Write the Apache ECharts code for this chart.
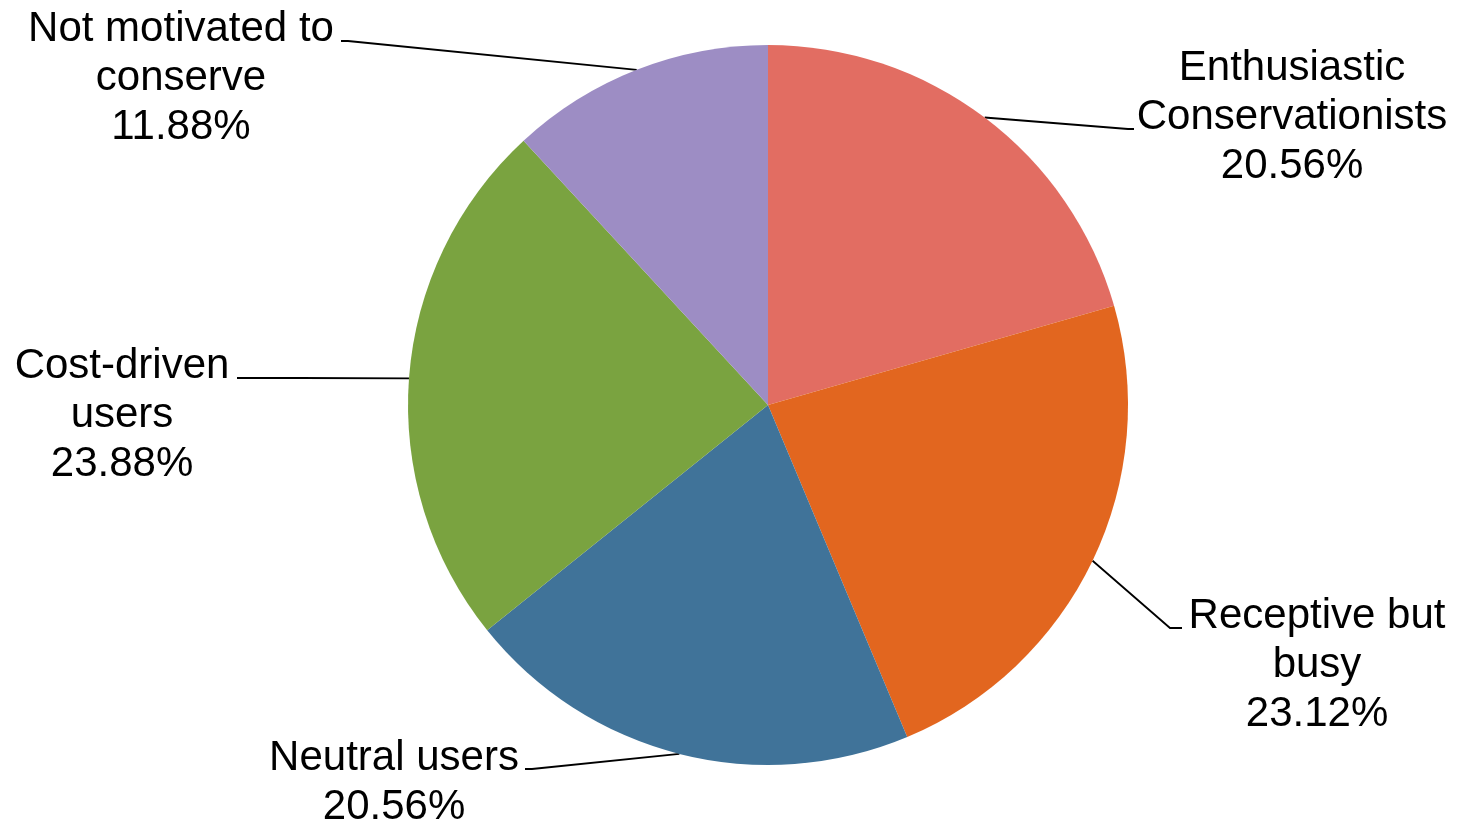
<!DOCTYPE html>
<html>
<head>
<meta charset="utf-8">
<title>Conservation attitude segments</title>
<script src="https://cdn.jsdelivr.net/npm/echarts@6/dist/echarts.min.js"></script>
<style>
  html, body { margin: 0; padding: 0; background: #ffffff; }
  #chart { width: 1458px; height: 825px; }
</style>
</head>
<body>
<div id="chart"></div>
<script>
// Segment names (line breaks as shown in the labels) and their shares in percent
const segmentNames = [
  'Enthusiastic\nConservationists',
  'Receptive but\nbusy',
  'Neutral users',
  'Cost-driven\nusers',
  'Not motivated to\nconserve'
];
const segmentShares = [20.56, 23.12, 20.56, 23.88, 11.88];
const segmentColors = ['#E26D62', '#E2661F', '#407399', '#7AA340', '#9D8DC4'];

// Where each label block sits, plus the bend and end of its leader line
const labelSpots = [
  { x: 1292, y: 117, elbow: [1128, 129], end: [1134, 129] },
  { x: 1317, y: 665, elbow: [1170, 628], end: [1182, 628] },
  { x: 394,  y: 783, elbow: [532, 769],  end: [525, 769] },
  { x: 122,  y: 415, elbow: [300, 378],  end: [237, 378] },
  { x: 181,  y: 78,  elbow: [348, 41],   end: [341, 41] }
];

const chart = echarts.init(document.getElementById('chart'), null, { renderer: 'canvas' });

const pieData = segmentNames.map((name, i) => ({
  name: name,
  value: segmentShares[i],
  itemStyle: { color: segmentColors[i] }
}));

chart.setOption({
  backgroundColor: '#ffffff',
  animation: false,
  series: [{
    type: 'pie',
    center: [768, 405],
    radius: [0, 360],
    startAngle: 90,
    clockwise: true,
    avoidLabelOverlap: false,
    data: pieData,
    itemStyle: { borderWidth: 0 },
    label: {
      show: true,
      position: 'outside',
      formatter: p => p.name + '\n' + p.value.toFixed(2) + '%',
      fontFamily: '"Liberation Sans", Arial, sans-serif',
      fontSize: 42,
      lineHeight: 49,
      color: '#000000',
      align: 'center'
    },
    labelLine: {
      show: true,
      length: 20,
      length2: 20,
      smooth: false,
      lineStyle: { color: '#000000', width: 1.8 }
    },
    labelLayout: function (params) {
      const spot = labelSpots[params.dataIndex];
      const pts = params.labelLinePoints;
      const out = {
        x: spot.x,
        y: spot.y,
        align: 'center',
        verticalAlign: 'middle',
        moveOverlap: false,
        hideOverlap: false
      };
      if (pts && pts.length) {
        out.labelLinePoints = [pts[0], spot.elbow, spot.end];
      }
      return out;
    },
    emphasis: { disabled: true }
  }]
});
</script>
</body>
</html>
